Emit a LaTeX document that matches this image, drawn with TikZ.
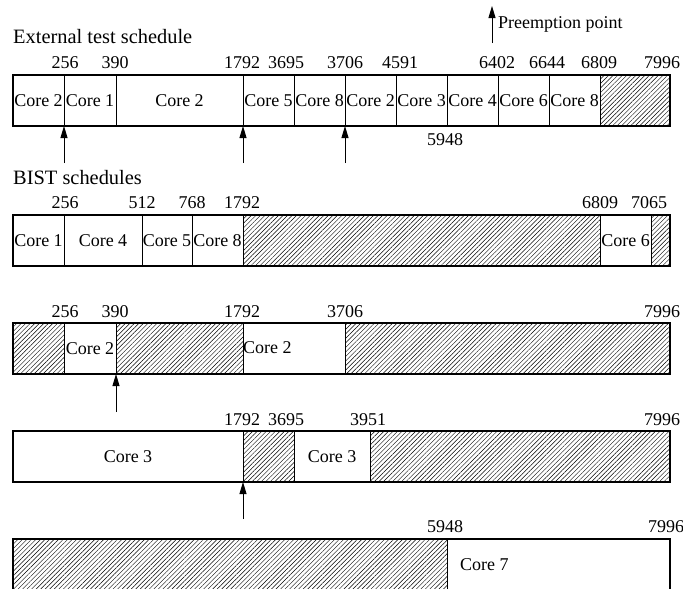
\documentclass[tikz,border=0pt]{standalone}
\usepackage{fontspec}
\setmainfont{Liberation Serif}
\usetikzlibrary{patterns.meta,arrows.meta}
\newcommand\schedcell[6]{\node[#5, minimum width={#3-#2}] (#1) at (#2,#4) {#6};}
\begin{document}
\begin{tikzpicture}[x=1pt,y=-1pt,
  every node/.style={font=\fontsize{18}{20}\selectfont},
  cellbox/.style={draw, line width=0.9pt, minimum height=51, inner sep=0pt, outer sep=0pt, anchor=north west},
  hatchbox/.style={cellbox, pattern={Lines[angle=45,distance=3.2pt,line width=0.45pt]}},
  frame/.style={draw, line width=1.5pt},
  num/.style={inner sep=0pt},
  title/.style={inner sep=0pt, anchor=west},
  bigtitle/.style={title, font=\fontsize{20.4}{22}\selectfont},
  pre/.style={-{Triangle[length=12pt,width=7pt]}, line width=0.9pt},
]
\useasboundingbox (0,0) rectangle (683,589);

% legend
\coordinate (lg0) at (492,43);
\coordinate (lg1) at (492,6);
\draw[pre] (lg0) -- (lg1);
\node[title] (lgt) at (498,24) {Preemption point};

\node[bigtitle] (t1) at (13,37) {External test schedule};

% Row 1
\schedcell{r1a}{13}{64}{75}{cellbox}{Core 2}
\schedcell{r1b}{64}{116}{75}{cellbox}{Core 1}
\schedcell{r1c}{116}{243}{75}{cellbox}{Core 2}
\schedcell{r1d}{243}{294}{75}{cellbox}{Core 5}
\schedcell{r1e}{294}{345}{75}{cellbox}{Core 8}
\schedcell{r1f}{345}{396}{75}{cellbox}{Core 2}
\schedcell{r1g}{396}{447}{75}{cellbox}{Core 3}
\schedcell{r1h}{447}{498}{75}{cellbox}{Core 4}
\schedcell{r1i}{498}{549}{75}{cellbox}{Core 6}
\schedcell{r1j}{549}{600}{75}{cellbox}{Core 8}
\schedcell{r1k}{600}{670}{75}{hatchbox}{}
\draw[frame] (r1a.north west) rectangle (r1k.south east);
\node[num] (n1a) at (65,63) {256};
\node[num] (n1b) at (115,63) {390};
\node[num] (n1c) at (242,63) {1792};
\node[num] (n1d) at (286,63) {3695};
\node[num] (n1e) at (345,63) {3706};
\node[num] (n1f) at (400,63) {4591};
\node[num] (n1g) at (497,63) {6402};
\node[num] (n1h) at (547,63) {6644};
\node[num] (n1i) at (599,63) {6809};
\node[num] (n1j) at (662,63) {7996};
\node[num] (n1k) at (445,140) {5948};
\coordinate (a1) at (64,163);
\coordinate (a2) at (243,163);
\coordinate (a3) at (345,163);
\draw[pre] (a1) -- (r1a.south east);
\draw[pre] (a2) -- (r1c.south east);
\draw[pre] (a3) -- (r1e.south east);

\node[bigtitle] (t2) at (13,178) {BIST schedules};

% Row 2
\schedcell{r2a}{13}{64}{215}{cellbox}{Core 1}
\schedcell{r2b}{64}{142}{215}{cellbox}{Core 4}
\schedcell{r2c}{142}{192}{215}{cellbox}{Core 5}
\schedcell{r2d}{192}{243}{215}{cellbox}{Core 8}
\schedcell{r2e}{243}{600}{215}{hatchbox}{}
\schedcell{r2f}{600}{651}{215}{cellbox}{Core 6}
\schedcell{r2g}{651}{670}{215}{hatchbox}{}
\draw[frame] (r2a.north west) rectangle (r2g.south east);
\node[num] (n2a) at (65,203) {256};
\node[num] (n2b) at (142,203) {512};
\node[num] (n2c) at (192,203) {768};
\node[num] (n2d) at (242,203) {1792};
\node[num] (n2e) at (600,203) {6809};
\node[num] (n2f) at (649,203) {7065};

% Row 3
\schedcell{r3a}{13}{64}{323}{hatchbox}{}
\schedcell{r3b}{64}{116}{323}{cellbox}{Core 2}
\schedcell{r3c}{116}{243}{323}{hatchbox}{}
\schedcell{r3d}{243}{345}{323}{cellbox}{}
\schedcell{r3e}{345}{670}{323}{hatchbox}{}
\node[title] (c3d) at (243,348) {Core 2};
\draw[frame] (r3a.north west) rectangle (r3e.south east);
\node[num] (n3a) at (65,312) {256};
\node[num] (n3b) at (115,312) {390};
\node[num] (n3c) at (242,312) {1792};
\node[num] (n3d) at (345,312) {3706};
\node[num] (n3e) at (662,312) {7996};
\coordinate (a4) at (116,412);
\draw[pre] (a4) -- (r3b.south east);

% Row 4
\schedcell{r4a}{13}{243}{431}{cellbox}{Core 3}
\schedcell{r4b}{243}{294}{431}{hatchbox}{}
\schedcell{r4c}{294}{370}{431}{cellbox}{Core 3}
\schedcell{r4d}{370}{670}{431}{hatchbox}{}
\draw[frame] (r4a.north west) rectangle (r4d.south east);
\node[num] (n4a) at (242,420) {1792};
\node[num] (n4b) at (286,420) {3695};
\node[num] (n4c) at (368,420) {3951};
\node[num] (n4d) at (662,420) {7996};
\coordinate (a5) at (243,519);
\draw[pre] (a5) -- (r4a.south east);

% Row 5
\schedcell{r5a}{13}{447}{539}{hatchbox, minimum height=60}{}
\schedcell{r5b}{447}{670}{539}{cellbox, minimum height=60}{}
\node[title] (c5b) at (460,565) {Core 7};
\draw[frame] (r5a.north west) rectangle (r5b.south east);
\node[num] (n5a) at (445,527) {5948};
\node[num] (n5b) at (666,527) {7996};
\end{tikzpicture}
\end{document}
